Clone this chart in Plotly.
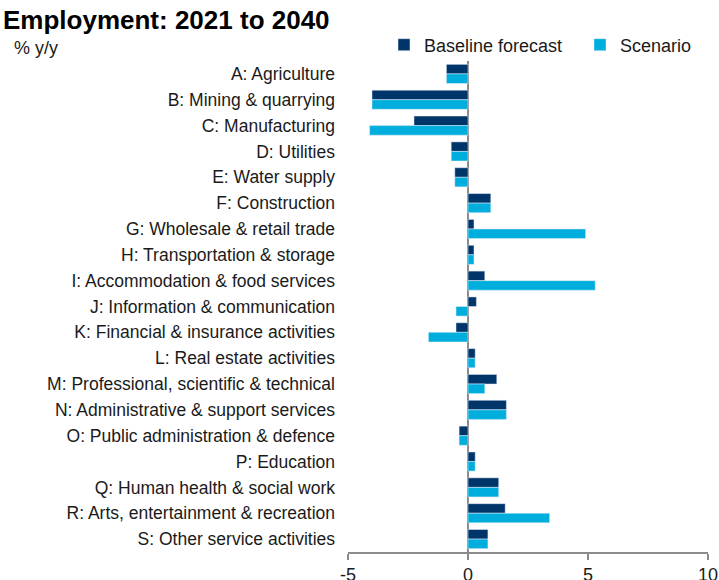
import plotly.graph_objects as go

# Sectors (top to bottom) and average annual employment growth, % y/y
sectors = [
    "A: Agriculture",
    "B: Mining & quarrying",
    "C: Manufacturing",
    "D: Utilities",
    "E: Water supply",
    "F: Construction",
    "G: Wholesale & retail trade",
    "H: Transportation & storage",
    "I: Accommodation & food services",
    "J: Information & communication",
    "K: Financial & insurance activities",
    "L: Real estate activities",
    "M: Professional, scientific & technical",
    "N: Administrative & support services",
    "O: Public administration & defence",
    "P: Education",
    "Q: Human health & social work",
    "R: Arts, entertainment & recreation",
    "S: Other service activities",
]
baseline = [-0.9, -4.0, -2.25, -0.7, -0.55, 0.95, 0.25, 0.25, 0.7, 0.35,
            -0.5, 0.3, 1.2, 1.6, -0.37, 0.3, 1.28, 1.55, 0.83]
scenario = [-0.9, -4.0, -4.1, -0.7, -0.55, 0.95, 4.9, 0.25, 5.3, -0.5,
            -1.65, 0.3, 0.7, 1.6, -0.37, 0.3, 1.28, 3.4, 0.83]
x_ticks = [-5, 0, 5, 10]

NAVY = "#00356A"
CYAN = "#00AEDE"
FONT = "Liberation Sans, Arial, sans-serif"
W, H = 719, 580

fig = go.Figure()
fig.add_trace(go.Bar(y=sectors, x=baseline, orientation="h",
                     name="Baseline forecast", marker_color=NAVY,
                     legend="legend"))
fig.add_trace(go.Bar(y=sectors, x=scenario, orientation="h",
                     name="Scenario", marker_color=CYAN,
                     legend="legend2"))

legend_style = dict(orientation="h", xref="container", yref="container",
                    y=1.0 - 45 / H, xanchor="left", yanchor="middle",
                    font=dict(size=18, color="#1a1a1a"),
                    bgcolor="rgba(0,0,0,0)", itemwidth=30)

fig.update_layout(
    width=W, height=H,
    margin=dict(l=348, r=11, t=61, b=28, autoexpand=False),
    paper_bgcolor="white", plot_bgcolor="white",
    font=dict(family=FONT, size=17.5, color="#1a1a1a"),
    barmode="group", bargap=0.26, bargroupgap=0,
    showlegend=True,
    legend=dict(x=384 / W, **legend_style),
    legend2=dict(x=580 / W, **legend_style),
    title=dict(text="<b>Employment: 2021 to 2040</b>",
               x=3 / W, xanchor="left", y=1 - 20 / H, yanchor="middle",
               font=dict(family=FONT, size=26, color="#000000")),
    annotations=[dict(text="% y/y", xref="paper", yref="paper",
                      x=(12 - 348) / 360, y=1 + (61 - 48) / 491,
                      xanchor="left", yanchor="middle", showarrow=False,
                      font=dict(size=18, color="#1a1a1a"))],
)

fig.update_xaxes(
    range=[-5, 10], tickvals=x_ticks, ticktext=[str(t) for t in x_ticks],
    showgrid=False, showline=True, linecolor="#8c8c8c", linewidth=1.5,
    ticks="outside", ticklen=6, tickwidth=1.5, tickcolor="#8c8c8c",
    zeroline=True, zerolinecolor="#8c8c8c", zerolinewidth=1.5,
    tickfont=dict(size=18, color="#1a1a1a"),
)
fig.update_yaxes(
    autorange="reversed", showgrid=False, showline=False, zeroline=False,
    ticks="", ticklabelstandoff=12,
)

fig.write_html("out.html")
